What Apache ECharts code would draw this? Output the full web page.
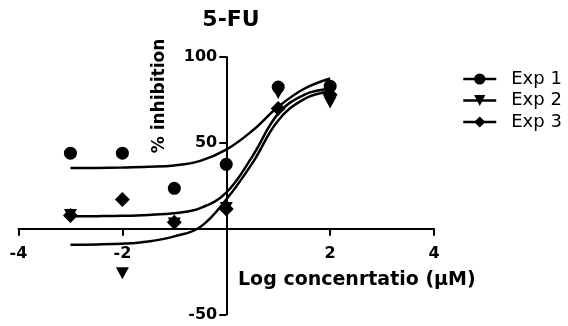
<!DOCTYPE html>
<html>
<head>
<meta charset="utf-8">
<script src="https://cdn.jsdelivr.net/npm/echarts@6/dist/echarts.min.js"></script>
<style>html,body{margin:0;padding:0;background:#fff}#c{width:568px;height:326px}</style>
</head>
<body>
<div id="c"></div>
<script>
// ---- data ----
const seriesNames = ['Exp 1', 'Exp 2', 'Exp 3'];
const doseX = [-3, -2, -1, 0, 1, 2];
const exp1 = [44, 44, 23.5, 37.5, 82.5, 83];
const exp2 = [8, -26, 3, 12, 79, 73.5];
const exp3 = [7.7, 17, 3.8, 11.5, 70, 78];
// fitted curves
const curveX = [-3, -2.5, -2, -1.5, -1, -0.5, 0, 0.5, 1, 1.5, 2];
const fit1 = [35.3, 35.4, 35.6, 36, 36.8, 39.5, 46, 57, 71, 81.5, 87.5];
const fit2 = [-9.3, -9.2, -8.8, -7.5, -4.5, 1, 17, 38, 63, 75.5, 80];
const fit3 = [7.2, 7.3, 7.5, 8, 9, 12, 21, 42, 67, 78, 81.5];
const xTicks = [-4, -2, 0, 2, 4];
const yTicks = [-50, 0, 50, 100];

const triDown = 'path://M0,0L20,0L10,18Z';
const symbols = ['circle', triDown, 'diamond'];
const symSizes = [13, [13, 12], 15];
const dataSets = [exp1, exp2, exp3];
const fits = [fit1, fit2, fit3];

const pairs = (xs, ys) => xs.map((x, i) => [x, ys[i]]);

const GRID = {left: 18.5, right: 134, top: 57, bottom: 11.5};
const W = 568, H = 326;
const gw = W - GRID.left - GRID.right, gh = H - GRID.top - GRID.bottom;
const xMin = xTicks[0], xMax = xTicks[xTicks.length - 1];
const yMin = yTicks[0], yMax = yTicks[yTicks.length - 1];
// move the axes onto the zero lines (axis offset relative to grid edge)
const yAxisOffset = -gw * (0 - xMin) / (xMax - xMin);
const xAxisOffset = -gh * (0 - yMin) / (yMax - yMin);

const series = [];
seriesNames.forEach((n, i) => {
  series.push({
    name: n, type: 'line', data: pairs(curveX, fits[i]),
    smooth: 0.4, showSymbol: false,
    symbol: symbols[i], symbolSize: symSizes[i],
    color: '#000', itemStyle: {color: '#000'}, lineStyle: {color: '#000', width: 2.5},
    silent: true, z: 2
  });
});
[1, 2, 0].forEach(i => {
  series.push({
    name: seriesNames[i], type: 'scatter', data: pairs(doseX, dataSets[i]),
    symbol: symbols[i], symbolSize: symSizes[i],
    itemStyle: {color: '#000', opacity: 1}, z: 3 + i
  });
});

const chart = echarts.init(document.getElementById('c'), null, {renderer: 'canvas'});
chart.setOption({
  animation: false,
  backgroundColor: '#fff',
  title: {
    text: '5-FU', left: 226, top: 4, textAlign: 'center',
    textStyle: {fontFamily: 'DejaVu Sans', fontWeight: 'bold', fontSize: 22, color: '#000'}
  },
  legend: {
    orient: 'vertical', left: 457, top: 65,
    data: seriesNames,
    itemWidth: 33, itemHeight: 14, itemGap: 3.5,
    lineStyle: {width: 2.5, color: '#000'},
    textStyle: {fontFamily: 'DejaVu Sans', fontSize: 18, color: '#000', lineHeight: 18, padding: [0, 0, 0, 10]},
    selectedMode: false
  },
  grid: {left: GRID.left, right: GRID.right, top: GRID.top, bottom: GRID.bottom, containLabel: false, outerBoundsMode: 'none'},
  xAxis: {
    type: 'value', min: xMin, max: xMax, interval: 2, position: 'bottom', offset: xAxisOffset,
    axisLine: {onZero: false, lineStyle: {color: '#000', width: 2}},
    axisTick: {show: true, length: 7, lineStyle: {color: '#000', width: 2}},
    axisLabel: {margin: 17, color: '#000', fontFamily: 'DejaVu Sans', fontWeight: 'bold', fontSize: 16,
      formatter: v => (v === 0 ? '' : String(v))},
    splitLine: {show: false}
  },
  yAxis: {
    type: 'value', min: yMin, max: yMax, interval: 50, position: 'left', offset: yAxisOffset,
    axisLine: {show: true, onZero: false, lineStyle: {color: '#000', width: 2}},
    axisTick: {show: true, length: 7, lineStyle: {color: '#000', width: 2}},
    axisLabel: {margin: 9, color: '#000', fontFamily: 'DejaVu Sans', fontWeight: 'bold', fontSize: 16,
      formatter: v => (v === 0 ? '' : String(v))},
    splitLine: {show: false}
  },
  graphic: [
    {type: 'text', x: 238, y: 280, style: {text: 'Log concenrtatio (\u03bcM)', font: 'bold 19px "DejaVu Sans"', fill: '#000', textAlign: 'left', textVerticalAlign: 'middle'}},
    {type: 'text', x: 160, y: 96, rotation: Math.PI / 2, style: {text: '% inhibition', font: 'bold 17px "DejaVu Sans"', fill: '#000', textAlign: 'center', textVerticalAlign: 'middle'}}
  ],
  series: series
});
</script>
</body>
</html>
